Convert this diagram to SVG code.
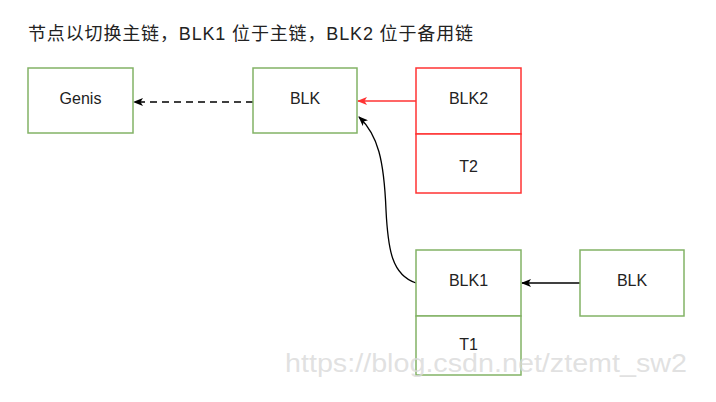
<svg xmlns="http://www.w3.org/2000/svg" width="716" height="402" viewBox="0 0 716 402">
<style>
.box{fill:#fff;stroke:#82b366;stroke-width:1.5}
.rbox{fill:#fff;stroke:#ff3333;stroke-width:1.5}
.lbl{font-family:"Liberation Sans",Arial,sans-serif;font-size:16px;fill:#222;text-anchor:middle}
.title{font-family:"Liberation Sans","Noto Sans CJK SC",sans-serif;font-size:18px;fill:#222}
.wm{font-family:"Liberation Sans",Arial,sans-serif;font-size:25px;fill:#d9d9d9;fill-opacity:0.8}
.edge{fill:none;stroke:#000;stroke-width:1.3}
</style>
<defs>
<marker id="ah" viewBox="0 0 10 8" refX="9" refY="4" markerWidth="10" markerHeight="8" markerUnits="userSpaceOnUse" orient="auto">
<path d="M0,0 L10,4 L0,8 L2.5,4 z" fill="#000"/>
</marker>
<marker id="ahr" viewBox="0 0 10 8" refX="9" refY="4" markerWidth="10" markerHeight="8" markerUnits="userSpaceOnUse" orient="auto">
<path d="M0,0 L10,4 L0,8 L2.5,4 z" fill="#ff3333"/>
</marker>
</defs>
<rect width="716" height="402" fill="#fff"/>
<text class="title" x="28" y="40" textLength="445" lengthAdjust="spacing">节点以切换主链，BLK1 位于主链，BLK2 位于备用链</text>
<g id="connectors">
<path class="edge" d="M253,102 L134,102" stroke-dasharray="7 5" marker-end="url(#ah)"/>
<path class="edge" d="M416,101 L358,101" style="stroke:#ff3333" marker-end="url(#ahr)"/>
<path class="edge" d="M416,283 C392,275 388,250 386,210 C384,160 378,135 359,117" marker-end="url(#ah)"/>
<path class="edge" d="M580,283 L522,283" marker-end="url(#ah)"/>
</g>
<g id="genis"><rect class="box" x="28" y="68" width="105" height="65"/><text class="lbl" x="80.5" y="104">Genis</text></g>
<g id="blk-main"><rect class="box" x="253" y="68" width="104" height="65"/><text class="lbl" x="305" y="104">BLK</text></g>
<g id="blk2">
<rect class="rbox" x="416" y="68" width="105" height="66"/><text class="lbl" x="468.5" y="104">BLK2</text>
<rect class="rbox" x="416" y="134" width="105" height="59"/><text class="lbl" x="468.5" y="172">T2</text>
</g>
<g id="blk1">
<rect class="box" x="416" y="250" width="105" height="66"/><text class="lbl" x="468.5" y="286">BLK1</text>
<rect class="box" x="416" y="316" width="105" height="59"/><text class="lbl" x="468.5" y="350">T1</text>
</g>
<g id="blk-next"><rect class="box" x="580" y="250" width="104" height="66"/><text class="lbl" x="632" y="286">BLK</text></g>
<text class="wm" x="285" y="372" textLength="402" lengthAdjust="spacingAndGlyphs">https://blog.csdn.net/ztemt_sw2</text>
</svg>
